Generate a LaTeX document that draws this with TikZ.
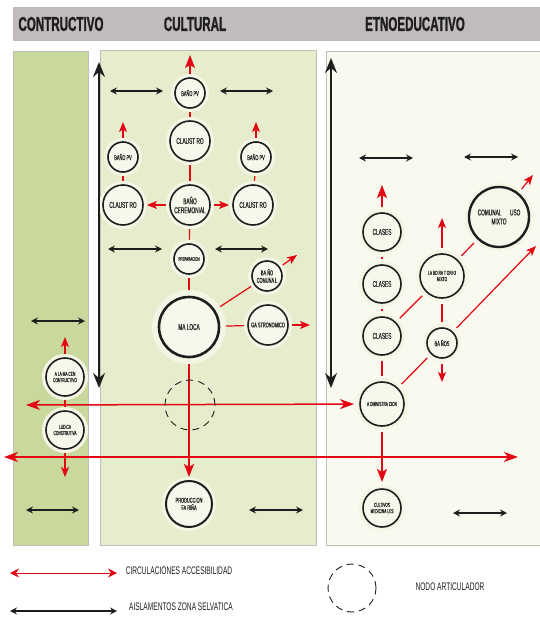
\documentclass[tikz,border=0pt]{standalone}
\usepackage{fontspec}
\setmainfont{Liberation Sans}
\newfontfamily\cond{Liberation Sans}[FakeStretch=0.6]
\newfontfamily\condn{Liberation Sans}[FakeStretch=0.56,FakeBold=0.6]
\newfontfamily\condb{Liberation Sans}[FakeStretch=0.58,FakeBold=1.2]
\usetikzlibrary{arrows.meta}
\definecolor{hdr}{HTML}{C1BBBB}
\definecolor{gL}{HTML}{C9D89C}
\definecolor{gM}{HTML}{E6EDCC}
\definecolor{gR}{HTML}{F9F9EF}
\definecolor{pb}{HTML}{BFBFB8}
\definecolor{halo}{HTML}{F4F5E4}
\definecolor{nfill}{HTML}{F7F8EC}
\definecolor{rd}{HTML}{E30613}
\definecolor{ink}{HTML}{1E1E1E}
\definecolor{txt}{HTML}{2A2A2A}
\pgfdeclarelayer{panel}
\pgfdeclarelayer{lines}
\pgfsetlayers{panel,lines,main}
\newcommand{\nf}{\condn\fontsize{8.5}{9}\selectfont}
\newcommand{\nfs}{\condn\fontsize{7}{7.5}\selectfont}
\newcommand{\nft}{\condn\fontsize{5.8}{6.3}\selectfont}
\newcommand{\nfx}{\condn\fontsize{5.2}{5.7}\selectfont}
\begin{document}
\begin{tikzpicture}[x=1pt,y=-1pt,
  nd/.style={circle, draw=ink, line width=1.6pt, fill=nfill, inner sep=0pt, align=center,
    text=txt, font=\nf, minimum size=#1, preaction={draw=halo, line width=8pt}, outer sep=4pt},
  ndR/.style={nd=#1, outer sep=6pt},
  hdrtxt/.style={font=\condb\bfseries\fontsize{20}{20}\selectfont, text=ink, inner sep=0pt},
  legtxt/.style={font=\cond\fontsize{11}{12}\selectfont, text=ink, inner sep=0pt},
  redl/.style={draw=rd, line width=1.2pt},
  redarr/.style={redl, -{Stealth[length=10pt,width=8pt,inset=2.5pt]}},
  redbig/.style={redl, -{Stealth[length=13pt,width=10pt,inset=3pt]}},
  redlong/.style={draw=rd, line width=1.5pt, {Stealth[length=14pt,width=10pt,inset=4pt]}-{Stealth[length=14pt,width=10pt,inset=4pt]}},
  iso/.style={draw=ink, line width=1.2pt, {Stealth[length=7pt,width=7pt,inset=2.5pt]}-{Stealth[length=7pt,width=7pt,inset=2.5pt]}},
  bigarr/.style={draw=ink, line width=1.6pt, {Stealth[length=15pt,width=12pt,inset=5pt]}-{Stealth[length=15pt,width=12pt,inset=5pt]}},
  nodo/.style={circle, draw=ink, line width=0.9pt, dash pattern=on 7pt off 5pt, minimum size=#1, inner sep=0pt}
]
\useasboundingbox (0,0) rectangle (540,618);
\begin{pgfonlayer}{panel}
  \fill[white] (0,0) rectangle (540,618);
  \fill[hdr] (13,7) rectangle (540,41);
  \filldraw[draw=pb, fill=gL, line width=0.8pt] (13,51) rectangle (88,545);
  \filldraw[draw=pb, fill=gM, line width=0.8pt] (100,50) rectangle (316,545);
  \filldraw[draw=pb, fill=gR, line width=0.8pt] (326,51) rectangle (545,545);
\end{pgfonlayer}

% header
\node[hdrtxt] (h1) at (61,24) {CONTRUCTIVO};
\node[hdrtxt] (h2) at (195,24) {CULTURAL};
\node[hdrtxt] (h3) at (415,24) {ETNOEDUCATIVO};

% cultural nodes
\node[nd=30pt, font=\nfs] (bpv1) at (190,93) {BAÑO PV};
\node[nd=40pt] (cl1) at (190,141) {CLAUST RO};
\node[nd=30pt, font=\nfs] (bpv2) at (123,157) {BAÑO PV};
\node[nd=30pt, font=\nfs] (bpv3) at (256,157) {BAÑO PV};
\node[nd=40pt] (cl2) at (123,205) {CLAUST RO};
\node[nd=40pt] (bcer) at (190,205) {BAÑO\\CEREMONIAL};
\node[nd=40pt] (cl3) at (253,205) {CLAUST RO};
\node[nd=30pt, font=\nfx] (prep) at (189,259) {PREPARACION};
\node[nd=30pt, font=\nfs] (bcom) at (267,276) {BA ÑO\\COMUNA L};
\node[nd=60pt, line width=2.6pt, preaction={draw=halo, line width=14pt}, outer sep=6pt] (mal) at (189,327) {MA LOCA};
\node[nd=40pt, font=\nfs] (gas) at (268,325) {GA STRONOMICO};
\node[nodo=50pt] (art) at (190,405) {};
\node[nd=46pt, font=\nfs, line width=2pt] (prod) at (189,504) {PRODUCCION\\FA RIÑA};

% constructivo nodes
\node[nd=38pt, font=\nft] (alm) at (65,377) {A LA MA CEN\\CONTRUCTIVO};
\node[nd=38pt, font=\nft] (lud) at (65,430) {LUDICA\\CONSTRUTIVA};

% etnoeducativo nodes
\node[ndR=38pt] (c1) at (382,232) {CLASES};
\node[ndR=38pt] (c2) at (382,284) {CLASES};
\node[ndR=38pt] (c3) at (382,336) {CLASES};
\node[ndR=44pt, font=\nft] (lab) at (442,276) {LA BO RA T ORI O\\MIXTO};
\node[ndR=60pt, line width=2.4pt] (com) at (499,217) {COMUNAL\quad USO\\MIXTO};
\node[ndR=30pt, font=\nfs] (ban) at (442,343) {BA ÑOS};
\node[ndR=44pt, font=\nft] (adm) at (382,404) {A DMINISTRA CION};
\node[ndR=38pt, font=\nft] (cult) at (382,508) {CULTIVOS\\MEDICINA LES};

% free ends
\coordinate (t1) at (190,55);
\coordinate (t2) at (123,122);
\coordinate (t3) at (256,122);
\coordinate (t4) at (297,255);
\coordinate (t5) at (310,325);
\coordinate (t6) at (65,337);
\coordinate (t7) at (65,477);
\coordinate (t8) at (382,185);
\coordinate (t9) at (442,218);
\coordinate (t10) at (442,382);
\coordinate (t11) at (533,175);
\coordinate (t12) at (536,246);
\coordinate (hL1) at (26,405);
\coordinate (hL2) at (4,457);
\coordinate (hR2) at (518,457);

\begin{pgfonlayer}{lines}
  % cultural
  \draw[redl] (bpv1) -- (cl1);
  \draw[redl] (cl1) -- (bcer);
  \draw[redl] (bpv2) -- (cl2);
  \draw[redl] (bpv3) -- (cl3);
  \draw[redl] (bcer) -- (prep);
  \draw[redl] (prep) -- (mal);
  \draw[redl] (mal) -- (bcom);
  \draw[redl] (mal) -- (gas);
  \draw[redarr] (bcer) -- (cl2);
  \draw[redarr] (bcer) -- (cl3);
  \draw[redbig] (bpv1) -- (t1);
  \draw[redarr] (bpv2) -- (t2);
  \draw[redarr] (bpv3) -- (t3);
  \draw[redarr] (bcom) -- (t4);
  \draw[redarr] (gas) -- (t5);
  \draw[redbig, line width=1.4pt] (mal) -- (prod);
  % constructivo
  \draw[redl] (alm) -- (lud);
  \draw[redarr] (alm) -- (t6);
  \draw[redarr] (lud) -- (t7);
  % etnoeducativo
  \draw[redl] (c1) -- (c2);
  \draw[redl] (c2) -- (c3);
  \draw[redl] (c3) -- (adm);
  \draw[redl] (c3) -- (lab);
  \draw[redl] (lab) -- (com);
  \draw[redl] (lab) -- (ban);
  \draw[redl] (adm) -- (ban);
  \draw[redbig] (c1) -- (t8);
  \draw[redarr] (lab) -- (t9);
  \draw[redarr] (ban) -- (t10);
  \draw[redarr] (com) -- (t11);
  \draw[redarr] (ban) -- (t12);
  \draw[redbig, line width=1.4pt, shorten >=1pt] (adm) -- (cult);
  % long circulations
  \draw[redlong] (hL1) -- (adm);
  \draw[redlong] (hL2) -- (hR2);
\end{pgfonlayer}

% vertical isolation arrows
\draw[bigarr] (99,62) -- (99,388);
\draw[bigarr] (331,58) -- (331,388);

% horizontal isolation arrows
\draw[iso] (110,91) -- (163,91);
\draw[iso] (220,91) -- (273,91);
\draw[iso] (108,249) -- (162,249);
\draw[iso] (215,249) -- (268,249);
\draw[iso] (249,510) -- (303,510);
\draw[iso] (359,158) -- (413,158);
\draw[iso] (464,157) -- (518,157);
\draw[iso] (453,513) -- (507,513);
\draw[iso] (31,321) -- (85,321);
\draw[iso] (26,510) -- (79,510);

% legend
\coordinate (lr1) at (10,573);
\coordinate (lr2) at (117,573);
\coordinate (lb1) at (10,611);
\coordinate (lb2) at (117,611);
\draw[draw=rd, line width=1pt, {Stealth[length=9pt,width=9pt,inset=3pt]}-{Stealth[length=9pt,width=9pt,inset=3pt]}] (lr1) -- (lr2);
\draw[iso] (lb1) -- (lb2);
\node[legtxt] (l1) at (179,571) {CIRCULACIONES ACCESIBILIDAD};
\node[legtxt] (l2) at (181,607) {AISLAMENTOS ZONA SELVATICA};
\node[nodo=48pt] (lnodo) at (352,588) {};
\node[legtxt] (l3) at (450,587) {NODO ARTICULADOR};
\end{tikzpicture}
\end{document}
